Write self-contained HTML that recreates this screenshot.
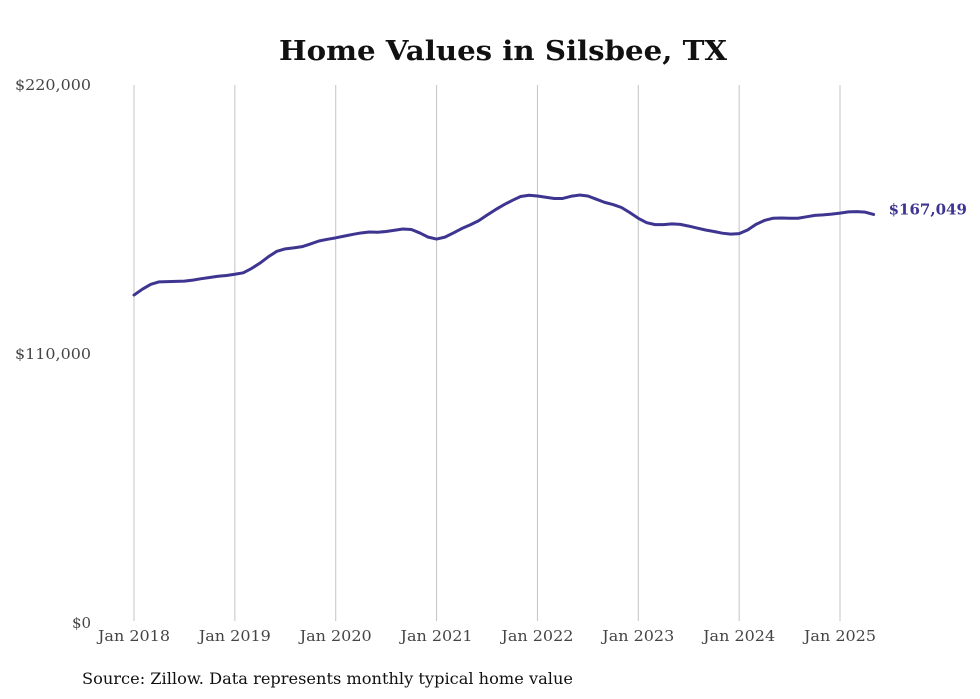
<!DOCTYPE html>
<html><head><meta charset="utf-8"><style>
html,body{margin:0;padding:0;background:#fff;}
svg{display:block;}
</style></head><body>
<svg width="980" height="699" viewBox="0 0 980 699" xmlns="http://www.w3.org/2000/svg">
<text x="503" y="60" text-anchor="middle" font-family="DejaVu Serif, Liberation Serif, serif" font-weight="bold" font-size="27" textLength="448" lengthAdjust="spacingAndGlyphs" fill="#111">Home Values in Silsbee, TX</text>
<g id="grid"></g>
<g id="yaxis"></g>
<g id="xaxis"></g>
<path id="line" fill="none" stroke="#3d3590" stroke-width="3" stroke-linejoin="round" stroke-linecap="round"/>
<text id="lastlabel" font-family="DejaVu Serif, Liberation Serif, serif" font-weight="bold" font-size="15" fill="#3d3590"></text>
<text x="82" y="684" font-family="DejaVu Serif, Liberation Serif, serif" font-size="16" textLength="491" lengthAdjust="spacingAndGlyphs" fill="#111">Source: Zillow. Data represents monthly typical home value</text>
</svg>
<script>
const yTicks = [0, 110000, 220000];
const yTickLabels = ["$0", "$110,000", "$220,000"];
const xTickYears = [2018, 2019, 2020, 2021, 2022, 2023, 2024, 2025];
const xTickLabels = ["Jan 2018","Jan 2019","Jan 2020","Jan 2021","Jan 2022","Jan 2023","Jan 2024","Jan 2025"];
const startYear = 2018;
const values = [
134100,136500,138500,139500,139600,139700,139800,140200,140800,141300,141800,142100,
142600,143200,145000,147200,149800,152000,153000,153400,153900,155000,156200,156900,
157500,158200,158900,159500,159900,159800,160100,160600,161100,160900,159500,157800,
157000,157800,159500,161300,162800,164500,166800,169000,171000,172800,174400,174900,
174600,174100,173600,173600,174500,175000,174600,173300,172000,171100,169900,167800,
165500,163700,162900,162900,163200,163000,162300,161500,160700,160100,159400,159000,
159200,160700,163000,164600,165500,165600,165500,165500,166100,166700,166900,167200,
167600,168100,168200,168000,167049];
const lastLabel = "$167,049";

const NS = "http://www.w3.org/2000/svg";
const y = v => 623 - v / 220000 * 538;
const x = m => 134 + m * (706 / 84);

const grid = document.getElementById('grid');
const xa = document.getElementById('xaxis');
xTickYears.forEach((yr, i) => {
  const xx = x((yr - startYear) * 12);
  const l = document.createElementNS(NS, 'line');
  
  
  l.setAttribute('x1', xx); l.setAttribute('x2', xx);
  l.setAttribute('y1', 85); l.setAttribute('y2', 621);
  l.setAttribute('stroke', '#c4c4c4'); l.setAttribute('stroke-width', '1');
  grid.appendChild(l);
  const t = document.createElementNS(NS, 'text');
  
  
  t.setAttribute('x', xx); t.setAttribute('y', 641);
  t.setAttribute('text-anchor', 'middle');
  t.setAttribute('font-family', 'DejaVu Serif, Liberation Serif, serif');
  t.setAttribute('font-size', '15');
  t.setAttribute('textLength', '72');
  t.setAttribute('lengthAdjust', 'spacingAndGlyphs');
  t.setAttribute('fill', '#444');
  t.textContent = xTickLabels[i];
  xa.appendChild(t);
});
const ya = document.getElementById('yaxis');
yTicks.forEach((v, i) => {
  const t = document.createElementNS(NS, 'text');
  
  
  t.setAttribute('x', i === 0 ? 72 : 15);
  t.setAttribute('y', y(v) + 5);
  t.setAttribute('font-family', 'DejaVu Serif, Liberation Serif, serif');
  t.setAttribute('font-size', '15');
  if (i > 0) { t.setAttribute('textLength', '76'); t.setAttribute('lengthAdjust', 'spacingAndGlyphs'); }
  t.setAttribute('fill', '#444');
  t.textContent = yTickLabels[i];
  ya.appendChild(t);
});
let d = '';
values.forEach((v, i) => { d += (i ? 'L' : 'M') + x(i).toFixed(2) + ',' + y(v).toFixed(2); });
document.getElementById('line').setAttribute('d', d);
const ll = document.getElementById('lastlabel');
const li = values.length - 1;
ll.setAttribute('x', x(li) + 15);
ll.setAttribute('y', y(values[li]) + 0);
ll.textContent = lastLabel;
</script>
</body></html>
